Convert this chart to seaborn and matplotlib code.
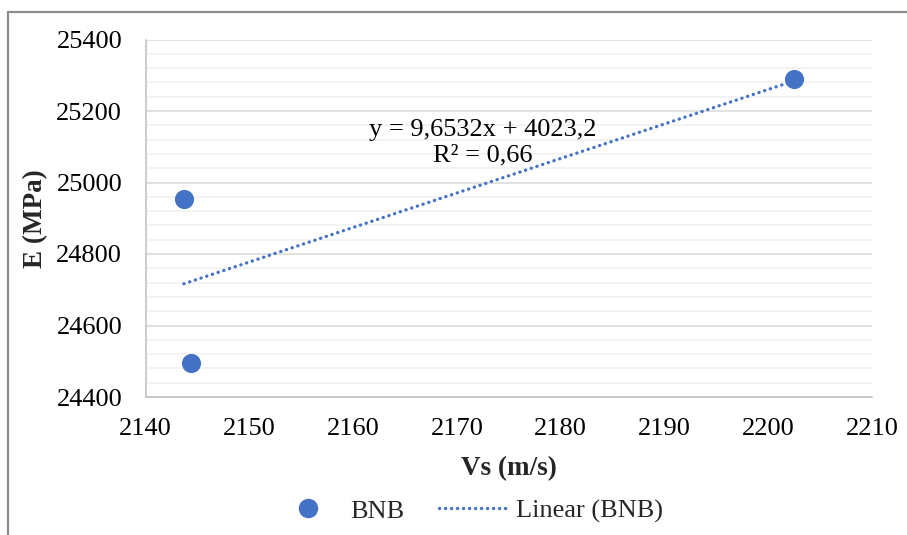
import matplotlib
matplotlib.use("Agg")
import matplotlib.pyplot as plt
from matplotlib.lines import Line2D
from matplotlib.ticker import MultipleLocator
import numpy as np
import pandas as pd
import seaborn as sns

# Measured samples
vs_values = [2143.7, 2144.4, 2202.5]      # shear-wave velocity, m/s
e_values = [24955, 24495, 25290]          # elastic modulus, MPa
series_name = "BNB"

# Linear trendline as reported
slope = 9.6532
intercept = 4023.2
r_squared = 0.66
equation_text = "y = 9,6532x + 4023,2\nR² = 0,66"

x_ticks = [2140, 2150, 2160, 2170, 2180, 2190, 2200, 2210]
y_ticks = [24400, 24600, 24800, 25000, 25200, 25400]

blue = "#4472C4"
W, H = 907, 535
FS = 19

sns.set_theme(style="white")
plt.rcParams["font.family"] = ["Liberation Serif", "DejaVu Serif"]

fig = plt.figure(figsize=(W / 100, H / 100), dpi=100)
ax = fig.add_axes([145.5 / W, 1 - 397 / H, (872 - 145.5) / W, (397 - 39.5) / H])

points = pd.DataFrame({"Vs": vs_values, "E": e_values})
trend_x = np.array([min(vs_values), max(vs_values)])
trend = pd.DataFrame({"Vs": trend_x, "E": slope * trend_x + intercept})

dot_style = (0, (0.05, 1.75))
sns.lineplot(data=trend, x="Vs", y="E", ax=ax, color=blue, linewidth=2.4,
             dashes=False, zorder=3)
line = ax.lines[-1]
line.set_linestyle(dot_style)
line.set_dash_capstyle("round")

sns.scatterplot(data=points, x="Vs", y="E", ax=ax, color=blue, s=190,
                edgecolor=blue, linewidth=0, zorder=4)

ax.set_xlim(2140, 2210)
ax.set_ylim(24400, 25400)
ax.set_xticks(x_ticks)
ax.set_yticks(y_ticks)
ax.yaxis.set_minor_locator(MultipleLocator(40))

ax.grid(True, which="major", axis="y", color="#d9d9d9", linewidth=1.1)
ax.grid(True, which="minor", axis="y", color="#f0f0f0", linewidth=1.1)
ax.set_axisbelow(True)

for side in ("top", "right"):
    ax.spines[side].set_visible(False)
for side in ("left", "bottom"):
    ax.spines[side].set_color("#bfbfbf")
    ax.spines[side].set_linewidth(1.1)

ax.tick_params(axis="both", which="major", direction="out", length=5.8,
               width=1.1, color="#bfbfbf", labelsize=FS, labelcolor="black")
ax.tick_params(axis="y", which="minor", length=0)
ax.tick_params(axis="y", which="major", pad=11)
ax.tick_params(axis="x", which="major", pad=9)

ax.set_xlabel("Vs (m/s)", fontsize=FS + 0.5, fontweight="bold", labelpad=12)
ax.set_ylabel("E (MPa)", fontsize=FS + 0.5, fontweight="bold", labelpad=6)

ax.text(2172.5, 25178, equation_text, fontsize=FS, ha="center", va="top",
        linespacing=1.2, color="black", zorder=5)

handles = [
    Line2D([], [], marker="o", linestyle="none", markersize=13,
           markerfacecolor=blue, markeredgecolor=blue, label=series_name),
    Line2D([], [], color=blue, linewidth=2.4, linestyle=dot_style,
           dash_capstyle="round", label=f"Linear ({series_name})"),
]
fig.legend(handles=handles, loc="center", bbox_to_anchor=(468 / W, 1 - 511 / H),
           ncol=2, frameon=False, fontsize=FS, handlelength=2.6,
           handletextpad=0.32, columnspacing=1.3, borderaxespad=0)

# Chart frame
frame_color = "#8c8c8c"
fig.add_artist(Line2D([8 / W, 8 / W], [0, 1 - 12 / H], transform=fig.transFigure,
                      color=frame_color, linewidth=1.6))
fig.add_artist(Line2D([8 / W, 1], [1 - 12 / H, 1 - 12 / H], transform=fig.transFigure,
                      color=frame_color, linewidth=1.6))

fig.savefig("out.png", dpi=100, facecolor="white")
